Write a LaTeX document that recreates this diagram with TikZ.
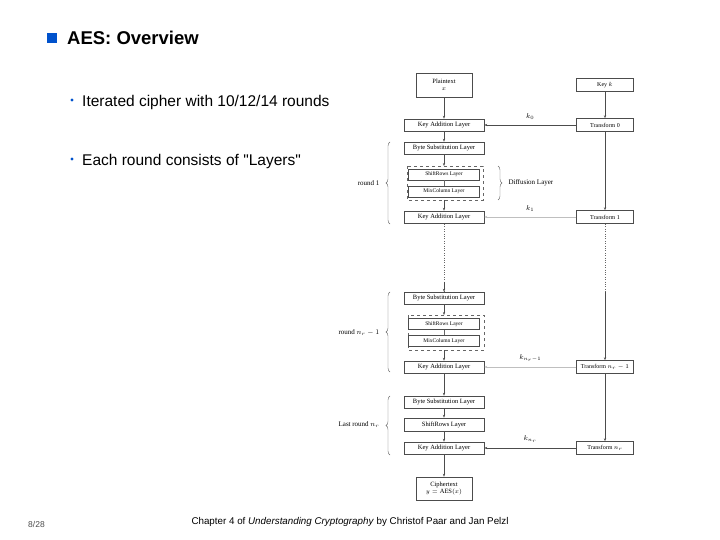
\documentclass[tikz,border=0pt]{standalone}
\usepackage{fontspec}
\setmainfont{Liberation Serif}
\newfontfamily\slidefont{Liberation Sans}
\usetikzlibrary{arrows.meta,decorations.pathreplacing}

\begin{document}
\begin{tikzpicture}[x=1pt,y=-1pt,
  layer/.style={draw=black!70,line width=.5pt,minimum width=80pt,minimum height=12pt,inner sep=0pt,font=\fontsize{6.5}{7}\selectfont},
  sublayer/.style={layer,minimum width=71pt,minimum height=11pt,font=\fontsize{5.5}{6}\selectfont},
  keybox/.style={layer,minimum width=57pt,minimum height=13pt,font=\fontsize{6}{7}\selectfont},
  dbox/.style={draw=black!60,dashed,line width=.4pt},
  flow/.style={draw=black!70,line width=.5pt,-{Stealth[length=3pt]}},
  brace/.style={draw=black!60,line width=.4pt,decorate,decoration={brace,amplitude=4pt}},
  lbl/.style={font=\fontsize{7}{8}\selectfont}]
  \useasboundingbox (0,0) rectangle (720,540);
  % slide text
  \fill[blue!60!cyan!80!black] (47,33) rectangle (57,43);
  \node[anchor=west,inner sep=0pt,font=\slidefont\bfseries\fontsize{18.5}{20}\selectfont] (title) at (67,38) {AES: Overview};
  \node[anchor=west,inner sep=0pt,font=\slidefont\fontsize{15.5}{18}\selectfont] (b1) at (82,102) {Iterated cipher with 10/12/14 rounds};
  \node[anchor=west,inner sep=0pt,font=\slidefont\fontsize{15.5}{18}\selectfont] (b2) at (82,161) {Each round consists of "Layers"};
  \fill[blue!60!cyan!80!black] (72,100) circle (1.6pt) (72,159) circle (1.6pt);
  \node[anchor=west,inner sep=0pt,font=\slidefont\fontsize{8.5}{9}\selectfont,text=black!70] (page) at (28,524) {8/28};
  \node[inner sep=0pt,font=\slidefont\fontsize{9.8}{11}\selectfont] (cite) at (350,522) {Chapter 4 of \textit{Understanding Cryptography} by Christof Paar and Jan Pelzl};
  % data path
  \node[layer,minimum width=56pt,minimum height=24pt,align=center] (pt) at (444,85) {Plaintext\\$x$};
  \node[layer] (ka0) at (444,125) {Key Addition Layer};
  \node[layer] (bs1) at (444,148) {Byte Substitution Layer};
  \draw[dbox] (407,166) rectangle (483,200);
  \node[sublayer] (sr1) at (444,174.5) {ShiftRows Layer};
  \node[sublayer] (mc1) at (444,191.5) {MixColumn Layer};
  \node[layer] (ka1) at (444,217) {Key Addition Layer};
  \node[layer] (bs9) at (444,298) {Byte Substitution Layer};
  \draw[dbox] (408,315) rectangle (484,350);
  \node[sublayer] (sr9) at (444,324) {ShiftRows Layer};
  \node[sublayer] (mc9) at (444,341) {MixColumn Layer};
  \node[layer] (ka9) at (444,367) {Key Addition Layer};
  \node[layer] (bsn) at (444,402) {Byte Substitution Layer};
  \node[layer,minimum height=13pt] (srn) at (444,424.5) {ShiftRows Layer};
  \node[layer] (kan) at (444,448) {Key Addition Layer};
  \node[layer,minimum width=56pt,minimum height=23pt,align=center] (ct) at (444,488.5) {Ciphertext\\$y=\mathrm{AES}(x)$};
  \draw[flow] (pt) -- (ka0);
  \draw[flow] (ka0) -- (bs1);
  \draw[flow] (bs1) -- (444,166);
  \draw[black!60,line width=.4pt] (sr1) -- (mc1);
  \draw[flow] (444,200) -- (ka1);
  \coordinate (d1) at (444,224);
  \coordinate (d2) at (444,292);
  \draw[black!60,line width=.4pt,dotted] (d1) -- (d2);
  \draw[flow] (444,282) -- (bs9);
  \draw[flow] (bs9) -- (444,315);
  \draw[black!60,line width=.4pt] (sr9) -- (mc9);
  \draw[flow] (444,350) -- (ka9);
  \draw[flow] (ka9) -- (bsn);
  \draw[flow] (bsn) -- (srn);
  \draw[flow] (srn) -- (kan);
  \draw[flow] (kan) -- (ct);
  % key schedule
  \node[keybox] (key) at (605,85) {Key $k$};
  \node[keybox] (tf0) at (605,125) {Transform 0};
  \node[keybox] (tf1) at (605,217) {Transform 1};
  \node[keybox] (tf9) at (605,367) {Transform $n_r-1$};
  \node[keybox] (tfn) at (605,448) {Transform $n_r$};
  \draw[flow] (key) -- (tf0);
  \draw[flow] (tf0) -- (tf1);
  \draw[black!60,line width=.4pt,dotted] (605,224) -- (605,292);
  \draw[flow] (605,292) -- (tf9);
  \draw[flow] (tf9) -- (tfn);
  \draw[flow] (tf0) -- node[lbl,above=2pt] {$k_0$} (ka0);
  \draw[flow,draw=black!25] (tf1) -- node[lbl,above=2pt,text=black] {$k_1$} (ka1);
  \draw[flow,draw=black!25] (tf9) -- node[lbl,above=2pt,text=black] {$k_{n_r-1}$} (ka9);
  \draw[flow] (tfn) -- node[lbl,above=2pt] {$k_{n_r}$} (kan);
  % braces
  \draw[brace] (390,224) -- (390,142);
  \node[lbl,anchor=east] (r1) at (383,183) {round 1};
  \draw[brace] (498,166) -- (498,200);
  \node[lbl,anchor=west] (dl) at (505,183) {Diffusion Layer};
  \draw[brace] (390,372) -- (390,292);
  \node[lbl,anchor=east] (r9) at (383,333) {round $n_r-1$};
  \draw[brace] (390,455) -- (390,396);
  \node[lbl,anchor=east] (rn) at (383,425) {Last round $n_r$};
\end{tikzpicture}
\end{document}
